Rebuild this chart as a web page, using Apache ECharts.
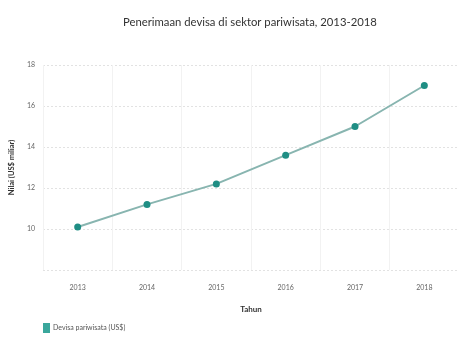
<!DOCTYPE html>
<html><head><meta charset="utf-8">
<script src="https://cdn.jsdelivr.net/npm/echarts@6/dist/echarts.min.js"></script>
<style>html,body{margin:0;padding:0;background:#fff}#c{width:459px;height:341px}</style>
</head><body><div id="c"></div>
<script>
const years = ['2013','2014','2015','2016','2017','2018'];
const devisa = [10.1, 11.2, 12.2, 13.6, 15.0, 17.0];
const yTicks = {min: 8, max: 18, interval: 2};
const chart = echarts.init(document.getElementById('c'));
chart.setOption({
  animation: false,
  title: {
    text: 'Penerimaan devisa di sektor pariwisata, 2013-2018',
    left: 118, top: 12,
    textStyle: {fontFamily: 'Lato', fontSize: 11.3, fontWeight: 'normal', color: '#333'}
  },
  grid: {left: 38, top: 65, width: 432, bottom: 71, containLabel: false},
  legend: {
    left: 38, top: 318, itemWidth: 7, itemHeight: 10, itemGap: 4, icon: 'rect',
    textStyle: {fontFamily: 'Lato', fontSize: 7, color: '#555', padding: [0, 0, 0, -2]},
    data: [{name: 'Devisa pariwisata (US$)', itemStyle: {color: '#3aa79c'}}]
  },
  xAxis: {
    type: 'category', data: years, boundaryGap: true,
    name: 'Tahun', nameLocation: 'middle', nameGap: 35,
    nameTextStyle: {fontFamily: 'Lato', fontSize: 8, color: '#333', fontWeight: 'bold'},
    axisLine: {show: false}, axisTick: {show: false},
    axisLabel: {fontFamily: 'Lato', fontSize: 7, color: '#666', margin: 14},
    splitLine: {show: true, lineStyle: {color: '#f2f2f2', width: 1}}
  },
  yAxis: {
    type: 'value', min: yTicks.min, max: yTicks.max, interval: yTicks.interval,
    name: 'Nilai (US$ miliar)', nameLocation: 'middle', nameGap: 22,
    nameTextStyle: {fontFamily: 'Lato', fontSize: 7.5, color: '#333', fontWeight: 'bold'},
    axisLine: {show: false}, axisTick: {show: false},
    axisLabel: {fontFamily: 'Lato', fontSize: 7, color: '#666', margin: 8, showMinLabel: false},
    splitLine: {show: true, lineStyle: {color: '#e2e2e2', type: [2, 2], width: 1}}
  },
  series: [{
    name: 'Devisa pariwisata (US$)', type: 'line', data: devisa,
    symbol: 'circle', symbolSize: 7,
    lineStyle: {color: '#88b5b0', width: 2},
    itemStyle: {color: '#1f8e84'}
  }]
});
</script></body></html>
